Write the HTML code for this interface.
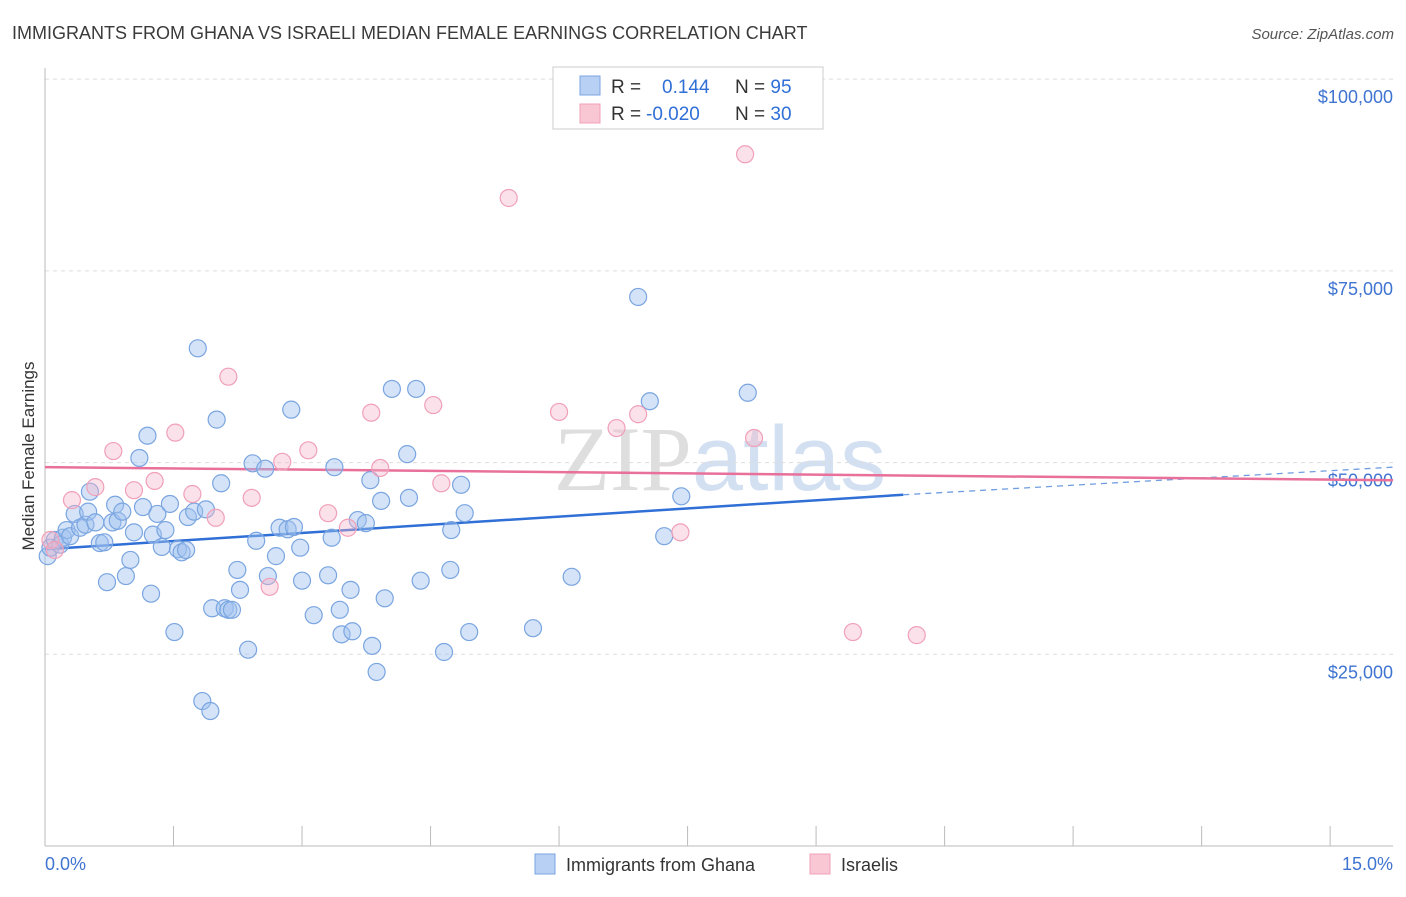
<!DOCTYPE html>
<html><head><meta charset="utf-8"><style>
body{margin:0;background:#fff;font-family:"Liberation Sans",sans-serif}
svg text{font-family:"Liberation Sans",sans-serif}
</style></head><body>
<svg id="chart" width="1406" height="892" xmlns="http://www.w3.org/2000/svg">
<text x="12" y="39" font-size="18" fill="#3a3a3a">IMMIGRANTS FROM GHANA VS ISRAELI MEDIAN FEMALE EARNINGS CORRELATION CHART</text>
<text x="1394" y="39" font-size="15" fill="#555" font-style="italic" text-anchor="end">Source: ZipAtlas.com</text>
<text x="720" y="490" font-size="92" text-anchor="middle" fill="#ddd" opacity="0.8"><tspan font-family="Liberation Serif" fill="#d6d6d6">ZIP</tspan><tspan fill="#c9d9ef">atlas</tspan></text>
<g id="grid"></g><g id="axes"></g><g id="trends"></g><g id="pts"></g>
<text transform="translate(34,456) rotate(-90)" font-size="17" fill="#333" text-anchor="middle">Median Female Earnings</text>
<text x="45" y="870" font-size="18" fill="#3f74d0">0.0%</text>
<text x="1393" y="870" font-size="18" fill="#3f74d0" text-anchor="end">15.0%</text>
<g>
<rect x="553" y="67" width="270" height="62" fill="#fff" stroke="#ccc"/>
<rect x="580" y="76" width="20" height="19" fill="#b8d0f4" stroke="#7aa5e0"/>
<rect x="580" y="104" width="20" height="19" fill="#f9c6d4" stroke="#f0a0b8"/>
<text x="611" y="93" font-size="19" fill="#333">R = <tspan x="662" fill="#2f6fd6">0.144</tspan><tspan x="735" fill="#333">N = </tspan><tspan fill="#2f6fd6">95</tspan></text>
<text x="611" y="120" font-size="19" fill="#333">R = <tspan x="646" fill="#2f6fd6">-0.020</tspan><tspan x="735" fill="#333">N = </tspan><tspan fill="#2f6fd6">30</tspan></text>
</g>
<g>
<rect x="535" y="854" width="20" height="20" fill="#b8d0f4" stroke="#7aa5e0"/>
<text x="566" y="871" font-size="18" fill="#333">Immigrants from Ghana</text>
<rect x="810" y="854" width="20" height="20" fill="#f9c6d4" stroke="#f0a0b8"/>
<text x="841" y="871" font-size="18" fill="#333">Israelis</text>
</g>
</svg>
<script>
const yTicks=[25000,50000,75000,100000];
const yTickLabels=["$25,000","$50,000","$75,000","$100,000"];
const xTicks=[0,1.43,2.86,4.29,5.72,7.15,8.58,10.01,11.44,12.87,14.3];
const ghanaX=[0.03,0.06,0.11,0.17,0.20,0.24,0.28,0.33,0.39,0.45,0.48,0.50,0.56,0.61,0.66,0.69,0.75,0.78,0.81,0.86,0.90,0.95,0.99,1.05,1.09,1.14,1.18,1.20,1.25,1.30,1.34,1.39,1.44,1.48,1.52,1.57,1.59,1.66,1.70,1.75,1.79,1.84,1.86,1.91,1.96,2.00,2.04,2.08,2.14,2.17,2.26,2.31,2.35,2.45,2.48,2.57,2.61,2.70,2.74,2.77,2.84,2.86,2.99,3.15,3.19,3.22,3.28,3.30,3.42,3.40,3.48,3.57,3.62,3.64,3.69,3.74,3.78,3.86,4.03,4.05,4.13,4.18,4.44,4.51,4.52,4.63,4.67,4.72,5.43,5.86,6.60,6.73,6.89,7.08,7.82];
const ghanaY=[37800,38900,39900,39300,40200,41200,40400,43300,41500,41900,43600,46200,42200,39500,39600,34400,42200,44500,42400,43600,35200,37300,40900,50600,44200,53500,32900,40600,43300,39000,41200,44600,27900,38700,38300,38600,42900,43600,64900,18900,43900,17600,31000,55600,47300,31000,30800,30800,36000,33400,25600,49900,39800,49200,35200,37800,41500,41300,56900,41600,38900,34600,30100,35300,40200,49400,30800,27600,28000,33400,42500,42100,47700,26100,22700,45000,32300,59600,51100,45400,59600,34600,25300,36000,41200,47100,43400,27900,28400,35100,71600,58000,40400,45600,59100];
const israelX=[0.06,0.11,0.30,0.56,0.76,0.99,1.22,1.45,1.64,1.90,2.04,2.30,2.50,2.64,2.93,3.15,3.37,3.63,3.73,4.32,4.41,5.16,5.72,6.36,6.60,7.07,7.79,7.89,8.99,9.70];
const israelY=[39900,38600,45100,46800,51500,46400,47600,53900,45900,42800,61200,45400,33800,50100,51600,43400,41500,56500,49300,57500,47300,84500,56600,54500,56300,40900,90200,53200,27900,27500];
const ghanaTrend=[[0,38700],[9.55,45800]];
const ghanaTrendExt=[[9.55,45800],[15,49400]];
const israelTrend=[[0,49400],[15,47700]];
const NS="http://www.w3.org/2000/svg";
const X=v=>45+v*89.87, Y=v=>846-v/130.4;
function mk(tag,attrs,parent){const e=document.createElementNS(NS,tag);for(const k in attrs)e.setAttribute(k,attrs[k]);document.getElementById(parent).appendChild(e);return e;}
yTicks.forEach((t,i)=>{
 const l=mk('line',{x1:45,x2:1393,y1:Y(t),y2:Y(t),stroke:'#ddd','stroke-dasharray':'4,4'},'grid');
 
 
 const tx=mk('text',{x:1393,y:Y(t)+24,'font-size':18,fill:'#3f74d0','text-anchor':'end'},'grid');
 tx.textContent=yTickLabels[i];
 
 
});
const ax=mk('line',{x1:45,x2:1393,y1:846,y2:846,stroke:'#bbb'},'axes');


const ay=mk('line',{x1:45,x2:45,y1:68,y2:846,stroke:'#bbb'},'axes');


xTicks.forEach(t=>{
 const l=mk('line',{x1:X(t),x2:X(t),y1:826,y2:846,stroke:'#bbb'},'axes');
 
 
});
function dots(xs,ys,fill,stroke,name){
 xs.forEach((x,i)=>{
  const c=mk('circle',{cx:X(x),cy:Y(ys[i]),r:8.5,fill:fill,stroke:stroke,'stroke-width':1.2},'pts');
  
  
 });
}
dots(ghanaX,ghanaY,'rgba(160,192,240,0.45)','#7aa5e0','ghana-point');
dots(israelX,israelY,'rgba(246,180,200,0.4)','#f0a0b8','israeli-point');
function line(p,stroke,dash,name,w){
 const l=mk('line',{x1:X(p[0][0]),y1:Y(p[0][1]),x2:X(p[1][0]),y2:Y(p[1][1]),stroke:stroke,'stroke-width':w,'stroke-dasharray':dash},'trends');
 
 
}
line(ghanaTrend,'#2f6fd6','none','ghana-trend-line',2.5);
line(ghanaTrendExt,'#6f9de0','6,5','ghana-trend-extension',1.3);
line(israelTrend,'#e8709a','none','israeli-trend-line',2.5);
</script>
</body></html>
